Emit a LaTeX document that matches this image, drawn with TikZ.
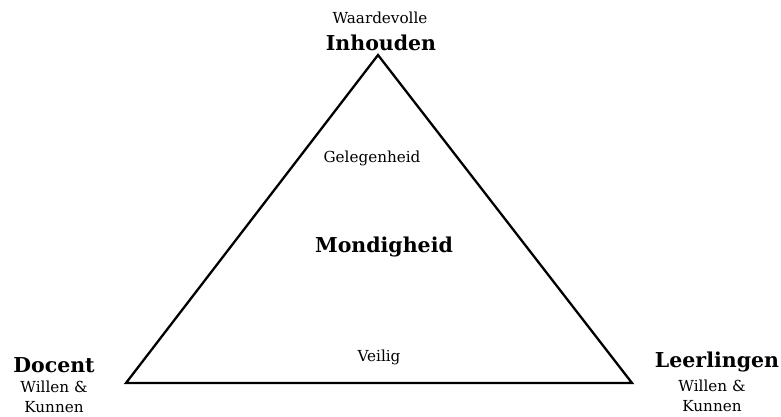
\documentclass[tikz,border=0pt]{standalone}
\usepackage{fontspec}
\setmainfont{DejaVu Serif}
\begin{document}
\begin{tikzpicture}[x=1pt,y=-1pt,
  lbl/.style={inner sep=0pt, font=\fontsize{15.2}{20}\selectfont, align=center},
  big/.style={inner sep=0pt, font=\fontsize{20.5}{24}\selectfont\bfseries},
  edge/.style={line width=2.3pt, line join=miter}]
\useasboundingbox (0,0) rectangle (781,416);
\coordinate (top) at (378,55);
\coordinate (bl) at (126,383);
\coordinate (br) at (632,383);
\draw[edge] (top) -- (br) -- (bl) -- cycle;
\node[lbl] (waard) at (380,18) {Waardevolle};
\node[big] (inh) at (381,43) {Inhouden};
\node[lbl] (gel) at (372,158) {Gelegenheid};
\node[big] (mond) at (384,247) {Mondigheid};
\node[lbl] (veil) at (379,357) {Veilig};
\node[big] (doc) at (54,365) {Docent};
\node[lbl] (docwk) at (54,397) {Willen \&\\Kunnen};
\node[big] (leer) at (717,362) {Leerlingen};
\node[lbl] (leerwk) at (712,396) {Willen \&\\Kunnen};
\end{tikzpicture}
\end{document}
